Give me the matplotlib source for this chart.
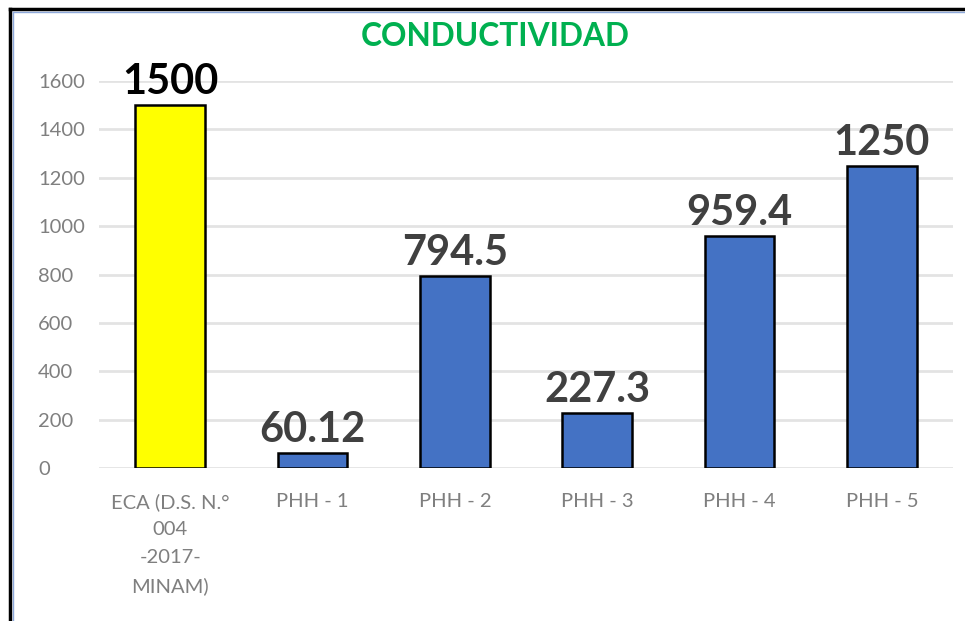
import matplotlib.pyplot as plt
from matplotlib.lines import Line2D

# Data
categories = ['ECA (D.S. N.°\n004\n-2017-\nMINAM)', 'PHH - 1', 'PHH - 2', 'PHH - 3', 'PHH - 4', 'PHH - 5']
values = [1500, 60.12, 794.5, 227.3, 959.4, 1250]
value_labels = ['1500', '60.12', '794.5', '227.3', '959.4', '1250']
bar_colors = ['#FFFF00', '#4472C4', '#4472C4', '#4472C4', '#4472C4', '#4472C4']
label_colors = ['#000000', '#404040', '#404040', '#404040', '#404040', '#404040']
yticks = [0, 200, 400, 600, 800, 1000, 1200, 1400, 1600]

plt.rcParams['font.family'] = ['Lato', 'DejaVu Sans']

fig = plt.figure(figsize=(9.65, 6.21), dpi=100)
ax = fig.add_axes([99 / 965, 1 - 468 / 621, (953 - 99) / 965, (468 - 81) / 621])

x = list(range(len(categories)))
ax.bar(x, values, width=0.49, color=bar_colors, edgecolor='black', linewidth=1.8, zorder=3)

# value labels above bars
for i, v in enumerate(values):
    ax.annotate(value_labels[i], (i, v), xytext=(0, 8), textcoords='offset points',
                ha='center', va='baseline', fontsize=30, fontweight='bold',
                color=label_colors[i], zorder=4)

ax.set_xlim(-0.5, len(categories) - 0.5)
ax.set_ylim(0, 1600)
ax.set_yticks(yticks)
ax.set_xticks(x)
ax.set_xticklabels(categories, fontsize=14.5, color='#7F7F7F', linespacing=1.75)
ax.tick_params(axis='x', length=0, pad=18)
ax.tick_params(axis='y', length=0, pad=44, labelsize=14.5, labelcolor='#7F7F7F')
for lbl in ax.get_yticklabels():
    lbl.set_horizontalalignment('left')

ax.grid(axis='y', color='#E3E3E3', linewidth=2, zorder=0)
for s in ax.spines.values():
    s.set_visible(False)

# title
fig.text(495 / 965, 1 - 36 / 621, 'CONDUCTIVIDAD', ha='center', va='center',
         fontsize=22.8, fontweight='bold', color='#00B050')

# frame lines (top and left)
fig.add_artist(Line2D([10 / 965, 1], [1 - 9 / 621, 1 - 9 / 621], color='black', linewidth=2.5))
fig.add_artist(Line2D([10 / 965, 10 / 965], [0, 1 - 9 / 621], color='black', linewidth=2.5))
fig.add_artist(Line2D([13 / 965, 1], [1 - 12 / 621, 1 - 12 / 621], color='#8EA9DB', linewidth=1))
fig.add_artist(Line2D([13 / 965, 13 / 965], [0, 1 - 12 / 621], color='#8EA9DB', linewidth=1))

plt.savefig('out.png', dpi=100)
